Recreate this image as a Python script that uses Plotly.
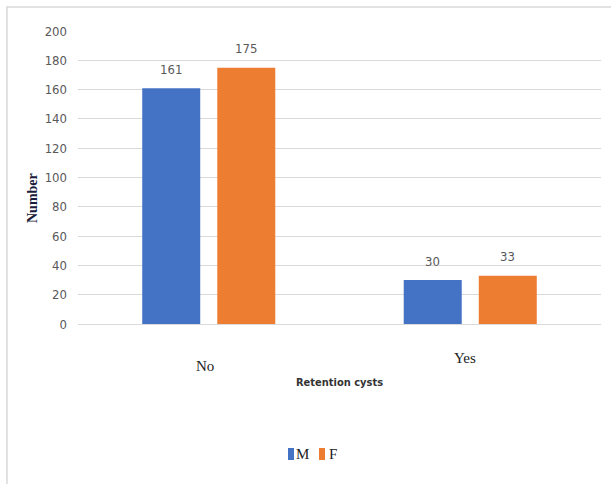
import plotly.graph_objects as go

categories = ["No", "Yes"]
series_names = ["M", "F"]
m_values = [161, 30]
f_values = [175, 33]
y_ticks = [0, 20, 40, 60, 80, 100, 120, 140, 160, 180, 200]

colors = {"M": "#4472C4", "F": "#ED7D31"}
NARROW = "DejaVu Sans Condensed, Liberation Sans Narrow, sans-serif"
SERIF = "Liberation Serif, Times New Roman, serif"

fig = go.Figure()
for name, vals in zip(series_names, [m_values, f_values]):
    fig.add_trace(go.Bar(x=categories, y=vals, name=name, showlegend=False,
                         marker=dict(color=colors[name], line=dict(width=0))))

annotations = []
# data labels
for shift, vals in zip([-37.5, 37.5], [m_values, f_values]):
    for c, v in zip(categories, vals):
        annotations.append(dict(x=c, y=v, xref="x", yref="y", text=str(v), showarrow=False,
                                xshift=shift, yshift=19, font=dict(family=NARROW, size=13, color="#595959")))
# category labels
for c, ys in zip(categories, [-0.143, -0.115]):
    annotations.append(dict(x=c, y=ys, xref="x", yref="paper", text=c, showarrow=False,
                            xanchor="center", yanchor="middle", xshift=-4 if c == "No" else -5,
                            font=dict(family=SERIF, size=15, color="#222222")))
annotations.append(dict(x=0.5, y=-0.2, xref="paper", yref="paper", text="<b>Retention cysts</b>", showarrow=False,
                        xanchor="center", yanchor="middle",
                        font=dict(family=NARROW, size=11, color="#333333")))
annotations.append(dict(x=-0.088, y=0.43, xref="paper", yref="paper", text="<b>Number</b>", showarrow=False,
                        xanchor="center", yanchor="middle",
                        textangle=-90, font=dict(family=SERIF, size=14, color="#1a1a3a")))
# manual legend
legend_shapes = []
for name, x_text, x_box in [("M", 0.4283, 0.4015), ("F", 0.4876, 0.4608)]:
    annotations.append(dict(x=x_text, y=-0.4437, xref="paper", yref="paper", text=name, showarrow=False,
                            xanchor="center", yanchor="middle",
                            font=dict(family=SERIF, size=15, color="#222222")))
    legend_shapes.append(dict(type="rect", xref="paper", yref="paper", x0=x_box, x1=x_box + 0.0115,
                              y0=-0.4642, y1=-0.4232, fillcolor=colors[name], line=dict(width=0)))

fig.update_layout(
    width=611, height=484,
    margin=dict(l=78, r=10, t=31, b=160),
    paper_bgcolor="white", plot_bgcolor="white",
    barmode="group", bargap=0.426, bargroupgap=0.227,
    showlegend=False,
    xaxis=dict(showticklabels=False, showgrid=False, zeroline=False, showline=False, ticks=""),
    yaxis=dict(range=[0, 200], tickvals=y_ticks, showgrid=True, gridcolor="#d9d9d9", gridwidth=1,
               zeroline=True, zerolinecolor="#d9d9d9", zerolinewidth=1, showline=False, ticks="",
               ticklabelstandoff=10,
               tickfont=dict(family=NARROW, size=13, color="#595959")),
    annotations=annotations,
    shapes=[dict(type="rect", xref="paper", yref="paper", x0=-0.1358, x1=1.05, y0=-0.6, y1=1.0819,
                 line=dict(color="#d9d9d9", width=1.5), layer="below")] + legend_shapes,
)

fig.write_html("out.html")
